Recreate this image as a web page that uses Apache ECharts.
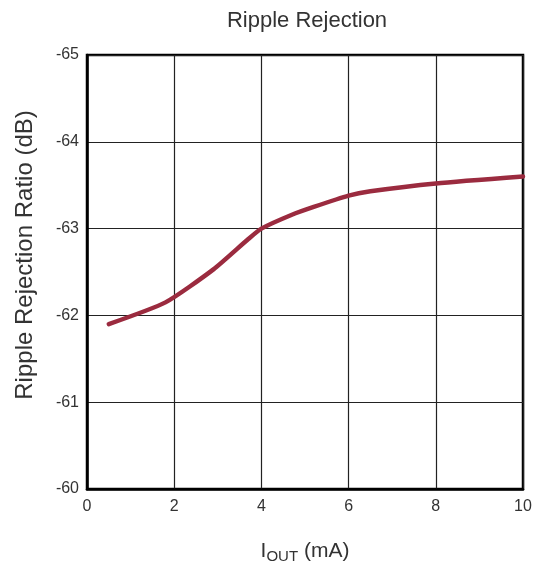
<!DOCTYPE html>
<html>
<head>
<meta charset="utf-8">
<script src="https://cdn.jsdelivr.net/npm/echarts@6/dist/echarts.min.js"></script>
<style>html,body{margin:0;padding:0;background:#fff}#c{width:542px;height:569px}</style>
</head>
<body>
<div id="c"></div>
<script>
var iout = [0.5, 1.8, 2.9, 3.7, 4.0, 4.7, 5.2, 6.0, 6.5, 8.0, 10.0];
var rr = [-61.9, -62.15, -62.53, -62.88, -63.0, -63.16, -63.25, -63.38, -63.43, -63.52, -63.6];
var xTicks = [0, 2, 4, 6, 8, 10];
var yTicks = [-65, -64, -63, -62, -61, -60];

var font = 'Liberation Sans, Arial, sans-serif';
var chart = echarts.init(document.getElementById('c'));
chart.setOption({
  animation: false,
  title: {
    text: 'Ripple Rejection', left: 302, top: 5, textAlign: 'center',
    textStyle: {fontFamily: font, fontSize: 22, fontWeight: 'normal', color: '#333'}
  },
  grid: {left: 87, top: 55, width: 436, height: 436, show: true, borderColor: '#000', borderWidth: 2.5, backgroundColor: 'transparent'},
  xAxis: {
    type: 'value', min: xTicks[0], max: xTicks[xTicks.length-1], interval: 2,
    name: '{a|I}{b|OUT}{a| (mA)}', nameLocation: 'middle', nameGap: 50,
    nameTextStyle: {rich: {
      a: {fontFamily: font, fontSize: 21, color: '#333'},
      b: {fontFamily: font, fontSize: 15, color: '#333', padding: [10, 0, 0, 0]}
    }},
    axisLine: {show: true, lineStyle: {color: '#000', width: 2.5}},
    axisTick: {show: false},
    axisLabel: {fontFamily: font, fontSize: 16, color: '#333', margin: 10},
    splitLine: {show: true, lineStyle: {color: '#222', width: 1.2}}
  },
  yAxis: {
    type: 'value', min: yTicks[0], max: yTicks[yTicks.length-1], interval: 1, inverse: true,
    name: 'Ripple Rejection Ratio (dB)', nameLocation: 'middle', nameGap: 50,
    nameTextStyle: {fontFamily: font, fontSize: 24, color: '#333', padding: [0, 0, 0, 34]},
    axisLine: {show: true, lineStyle: {color: '#000', width: 2.5}},
    axisTick: {show: false},
    axisLabel: {fontFamily: font, fontSize: 16, color: '#333', margin: 8},
    splitLine: {show: true, lineStyle: {color: '#222', width: 1.2}}
  },
  series: [{
    type: 'line', data: iout.map(function(x, i){ return [x, rr[i]]; }),
    showSymbol: false, smooth: 0.2,
    lineStyle: {color: '#9B2B3F', width: 4.5, cap: 'round'}
  }]
});
</script>
</body>
</html>
